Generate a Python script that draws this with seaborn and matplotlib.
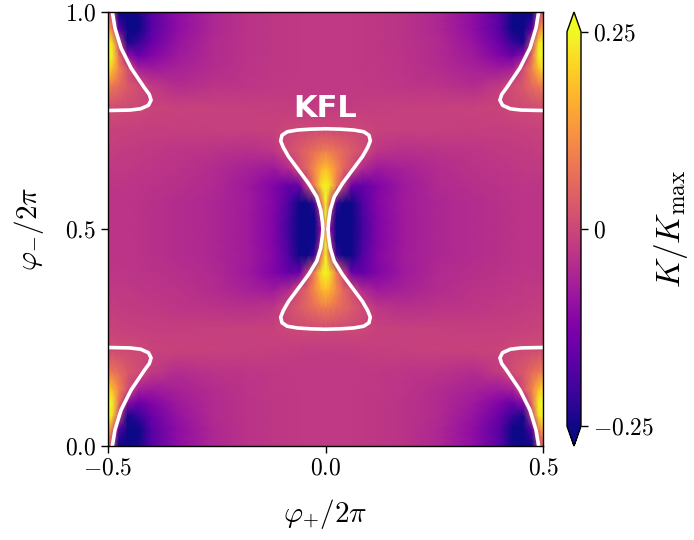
import numpy as np
import matplotlib
matplotlib.use("Agg")
import matplotlib.pyplot as plt
import seaborn as sns

# Grid nodes for one quadrant (phi+ in [0, 0.5], phi- in [0, 0.5]); the map is mirror symmetric
phi_plus_q = [0.0, 0.01, 0.025, 0.04, 0.06, 0.085, 0.12, 0.18, 0.26, 0.34, 0.40, 0.43, 0.455, 0.475, 0.49, 0.5]
phi_minus_q = [0.0, 0.02, 0.04, 0.07, 0.10, 0.13, 0.17, 0.22, 0.27, 0.32, 0.36, 0.40, 0.44, 0.47, 0.5]

# K/Kmax, one row per phi- node
k_rows = [
    [-0.025, -0.025, -0.025, -0.025, -0.025, -0.026, -0.028, -0.035, -0.055, -0.10, -0.17, -0.24, -0.32, -0.25, 0.00, 0.05],
    [-0.025, -0.025, -0.025, -0.025, -0.025, -0.026, -0.028, -0.035, -0.055, -0.10, -0.17, -0.25, -0.33, -0.22, 0.02, 0.10],
    [-0.025, -0.025, -0.025, -0.025, -0.025, -0.026, -0.028, -0.035, -0.055, -0.10, -0.17, -0.25, -0.32, -0.16, 0.08, 0.17],
    [-0.025, -0.025, -0.025, -0.025, -0.025, -0.026, -0.028, -0.035, -0.050, -0.09, -0.15, -0.21, -0.24, 0.00, 0.22, 0.27],
    [-0.025, -0.025, -0.025, -0.025, -0.025, -0.026, -0.028, -0.035, -0.050, -0.08, -0.12, -0.15, -0.10, 0.07, 0.24, 0.28],
    [-0.025, -0.025, -0.025, -0.025, -0.025, -0.026, -0.027, -0.032, -0.045, -0.065, -0.08, -0.07, 0.015, 0.10, 0.18, 0.22],
    [-0.025, -0.025, -0.025, -0.025, -0.025, -0.025, -0.026, -0.030, -0.035, -0.045, -0.02, 0.01, 0.03, 0.06, 0.08, 0.09],
    [-0.020, -0.020, -0.020, -0.020, -0.019, -0.017, -0.015, -0.012, -0.010, -0.008, -0.004, 0.003, 0.005, 0.007, 0.008, 0.008],
    [0.002, 0.002, 0.002, 0.002, 0.002, 0.000, -0.008, -0.012, -0.012, -0.014, -0.014, -0.012, -0.010, -0.008, -0.007, -0.007],
    [0.09, 0.085, 0.07, 0.055, 0.035, 0.008, -0.03, -0.04, -0.035, -0.03, -0.025, -0.022, -0.02, -0.018, -0.017, -0.017],
    [0.18, 0.16, 0.11, 0.06, 0.015, -0.05, -0.08, -0.065, -0.045, -0.035, -0.03, -0.028, -0.025, -0.025, -0.025, -0.025],
    [0.30, 0.22, 0.09, -0.005, -0.15, -0.16, -0.12, -0.08, -0.05, -0.04, -0.035, -0.032, -0.03, -0.03, -0.03, -0.03],
    [0.30, 0.06, -0.20, -0.28, -0.25, -0.18, -0.115, -0.075, -0.055, -0.045, -0.038, -0.035, -0.033, -0.033, -0.033, -0.033],
    [0.26, -0.05, -0.28, -0.33, -0.28, -0.19, -0.12, -0.078, -0.055, -0.045, -0.038, -0.035, -0.033, -0.033, -0.033, -0.033],
    [0.12, -0.10, -0.30, -0.34, -0.29, -0.20, -0.12, -0.078, -0.055, -0.045, -0.038, -0.035, -0.033, -0.033, -0.033, -0.033],
]

# Kerr-free line (K = 0)
# central hourglass, upper right quarter: waist -> top centre
kfl_centre_x = [0.006, 0.007, 0.011, 0.020, 0.039, 0.062, 0.085, 0.097, 0.103, 0.100, 0.088, 0.065, 0.035, 0.0]
kfl_centre_y = [0.5, 0.515, 0.544, 0.574, 0.605, 0.636, 0.667, 0.688, 0.703, 0.716, 0.724, 0.728, 0.730, 0.731]
# corner pieces, bottom right one: right edge -> bottom edge
kfl_corner_x = [0.5, 0.45, 0.425, 0.407, 0.401, 0.405, 0.416, 0.447, 0.470, 0.484, 0.490]
kfl_corner_y = [0.227, 0.226, 0.223, 0.215, 0.203, 0.190, 0.175, 0.129, 0.083, 0.037, 0.0]

x_ticks = [-0.5, 0.0, 0.5]
y_ticks = [0.0, 0.5, 1.0]
cb_ticks = [-0.25, 0.0, 0.25]
cb_labels = [r"$-0.25$", r"$0$", r"$0.25$"]

sns.set_style("ticks")
plt.rcParams["font.family"] = "serif"
plt.rcParams["font.serif"] = ["cmr10", "DejaVu Serif"]
plt.rcParams["mathtext.fontset"] = "cm"
plt.rcParams["axes.formatter.use_mathtext"] = True
plt.rcParams["axes.edgecolor"] = "black"
plt.rcParams["xtick.color"] = "black"
plt.rcParams["ytick.color"] = "black"
plt.rcParams["text.color"] = "black"
plt.rcParams["axes.labelcolor"] = "black"

# mirror the quadrant into the full map
xq = np.array(phi_plus_q)
yq = np.array(phi_minus_q)
kq = np.array(k_rows)
xs = np.concatenate([-xq[::-1][:-1], xq])
ys = np.concatenate([yq, 1 - yq[::-1][1:]])
kh = np.hstack([kq[:, ::-1][:, :-1], kq])
K = np.vstack([kh, kh[::-1][1:]])

cmap = sns.color_palette("plasma", as_cmap=True)

fig = plt.figure(figsize=(6.94, 5.40), dpi=100)
ax = fig.add_axes([108 / 694, 1 - 446 / 540, 435 / 694, 434 / 540])
cax = fig.add_axes([567 / 694, 1 - 446 / 540, 14 / 694, 434 / 540])

mesh = ax.pcolormesh(xs, ys, K, shading="gouraud", cmap=cmap, vmin=-0.25, vmax=0.25)

hx = np.array(kfl_centre_x)
hy = np.array(kfl_centre_y)
loop_x = np.concatenate([hx, -hx[::-1], -hx, hx[::-1]])
loop_y = np.concatenate([hy, hy[::-1], 1 - hy, (1 - hy)[::-1]])
ax.plot(loop_x, loop_y, color="white", lw=2.6, solid_capstyle="round")

cx = np.array(kfl_corner_x)
cy = np.array(kfl_corner_y)
for sx, fy in [(1, False), (-1, False), (1, True), (-1, True)]:
    yy = 1 - cy if fy else cy
    ax.plot(sx * cx, yy, color="white", lw=2.6, clip_on=True)

ax.text(0.0, 0.778, "KFL", color="white", fontsize=22, fontweight="bold",
        family="DejaVu Sans", ha="center", va="center")

ax.set_xlim(-0.5, 0.5)
ax.set_ylim(0, 1)
ax.set_xticks(x_ticks)
ax.set_yticks(y_ticks)
ax.tick_params(labelsize=17, length=5, width=1)
ax.set_xlabel(r"$\varphi_{+}/2\pi$", fontsize=21, labelpad=12)
ax.set_ylabel(r"$\varphi_{-}/2\pi$", fontsize=21, labelpad=14)
for s in ax.spines.values():
    s.set_linewidth(1.0)

cb = fig.colorbar(mesh, cax=cax, extend="both")
cb.set_ticks(cb_ticks)
cb.set_ticklabels(cb_labels)
cb.ax.tick_params(labelsize=17, length=5, width=1)
cb.outline.set_linewidth(1.0)
cb.set_label(r"$K/K_{\max}$", fontsize=24, labelpad=-1)

fig.savefig("out.png", dpi=100)
